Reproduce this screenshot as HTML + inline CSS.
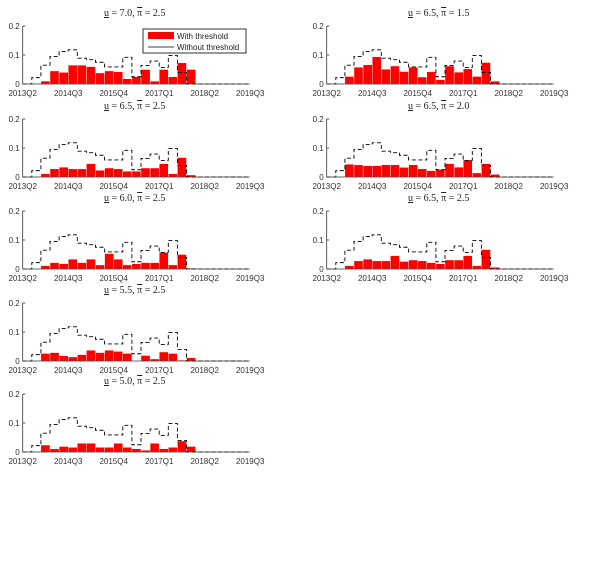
<!DOCTYPE html>
<html><head><meta charset="utf-8"><style>
html,body{margin:0;padding:0;background:#fff;}
svg{display:block;}
text{font-family:"Liberation Sans",sans-serif;}
.t{font-family:"Liberation Serif",serif;font-size:10px;}
</style></head><body>
<svg id="c" width="600" height="581" viewBox="0 0 600 581"></svg>
<script>
const tickLabels = ["2013Q2","2014Q3","2015Q4","2017Q1","2018Q2","2019Q3"];
const yTicks = [0, 0.1, 0.2];
const withoutThreshold = [0,0.022,0.065,0.095,0.112,0.118,0.089,0.084,0.075,0.059,0.059,0.092,0.025,0.064,0.079,0.057,0.098,0.04,0,0,0,0,0,0,0];
const titlesU = ["7.0","6.5","6.5","6.5","6.0","6.5","5.5","5.0"];
const titlesPi = ["2.5","1.5","2.5","2.0","2.5","2.5","2.5","2.5"];
const p1 = [0,0,0.01,0.045,0.04,0.065,0.065,0.06,0.038,0.045,0.042,0.018,0.025,0.05,0.01,0.05,0.025,0.073,0.05];
const p2 = [0,0,0.026,0.058,0.066,0.094,0.051,0.062,0.043,0.058,0.024,0.042,0.015,0.062,0.041,0.052,0.026,0.074,0.01];
const p3 = [0,0,0.011,0.028,0.034,0.028,0.028,0.046,0.023,0.031,0.028,0.02,0.02,0.031,0.031,0.046,0.011,0.067,0.007];
const p4 = [0,0,0.044,0.042,0.039,0.039,0.042,0.042,0.033,0.042,0.028,0.022,0.026,0.046,0.034,0.059,0.014,0.046,0.009];
const p5 = [0,0,0.011,0.022,0.018,0.034,0.022,0.034,0.014,0.053,0.034,0.014,0.018,0.022,0.022,0.057,0.014,0.05,0.003];
const p6 = [0,0,0.011,0.028,0.034,0.028,0.028,0.046,0.026,0.031,0.028,0.022,0.018,0.031,0.031,0.046,0.011,0.067,0.006];
const p7 = [0,0,0.026,0.029,0.018,0.014,0.022,0.037,0.029,0.037,0.033,0.026,0,0.019,0.007,0.031,0.026,0.003,0.011];
const p8 = [0,0,0.024,0.011,0.019,0.016,0.03,0.03,0.016,0.016,0.03,0.016,0.011,0.006,0.03,0.011,0.016,0.038,0.019];
const withThreshold = [p1,p2,p3,p4,p5,p6,p7,p8];
const panelRow = [0,0,1,1,2,2,3,4];
const panelCol = [0,1,0,1,0,1,0,0];

const svg = document.getElementById('c');
const NS = 'http://www.w3.org/2000/svg';
function mk(tag, attrs){const e=document.createElementNS(NS,tag);for(const k in attrs)e.setAttribute(k,attrs[k]);svg.appendChild(e);return e;}
const baselines=[84,177,269,361,452];
const W=9.1, H=290;
withThreshold.forEach((vals,pi)=>{
  const row=panelRow[pi], col=panelCol[pi];
  const x0 = col===0?22.7:326.7, y0=baselines[row];
  const xs=i=>x0+i*W, ys=v=>y0-v*H;
  const t=mk('text',{x:x0+112,y:y0-68,'text-anchor':'middle',class:'t',fill:'#222'});
  
  
  t.innerHTML='<tspan text-decoration="underline">u</tspan> = '+titlesU[pi]+', <tspan text-decoration="overline">π</tspan> = '+titlesPi[pi];
  vals.forEach((v,i)=>{ if(v<=0) return;
    const r=mk('rect',{x:xs(i),y:ys(v),width:W,height:y0-ys(v),fill:'#f00',stroke:'#fff','stroke-width':0.4});
    
    
  });
  let d='M'+xs(0)+','+ys(withoutThreshold[0]);
  withoutThreshold.forEach((v,i)=>{d+=' L'+xs(i)+','+ys(v)+' L'+xs(i+1)+','+ys(v);});
  const p=mk('path',{d:d,fill:'none',stroke:'#000','stroke-width':0.9,'stroke-dasharray':'4,2.5'});
  
  
  const ax=mk('path',{d:'M'+x0+','+ys(0.2)+' L'+x0+','+y0+' L'+(x0+227)+','+y0,fill:'none',stroke:'#333','stroke-width':0.8});
  
  
  yTicks.forEach(v=>{
    mk('line',{x1:x0,x2:x0+2.5,y1:ys(v),y2:ys(v),stroke:'#333','stroke-width':0.8});
    const l=mk('text',{x:x0-3,y:ys(v)+3,'text-anchor':'end','font-size':8,fill:'#333'});
    
    
    l.textContent=v===0?'0':v.toFixed(1);
  });
  tickLabels.forEach((s,k)=>{
    const l=mk('text',{x:xs(k*5),y:y0+12,'text-anchor':'middle','font-size':8,fill:'#333'});
    
    
    l.textContent=s;
  });
  if(pi===0){
    const g=mk('rect',{x:143,y:29,width:103,height:24,fill:'#fff',stroke:'#000','stroke-width':0.8});
    
    
    mk('rect',{x:148,y:32,width:26,height:7,fill:'#f00'});
    const a=mk('text',{x:177,y:39,'font-size':8,fill:'#222'});a.textContent='With threshold';
    
    
    mk('line',{x1:148,x2:174,y1:47,y2:47,stroke:'#000','stroke-width':0.8});
    const b=mk('text',{x:177,y:50,'font-size':8,fill:'#222'});b.textContent='Without threshold';
    
    
  }
});
</script>
</body></html>
